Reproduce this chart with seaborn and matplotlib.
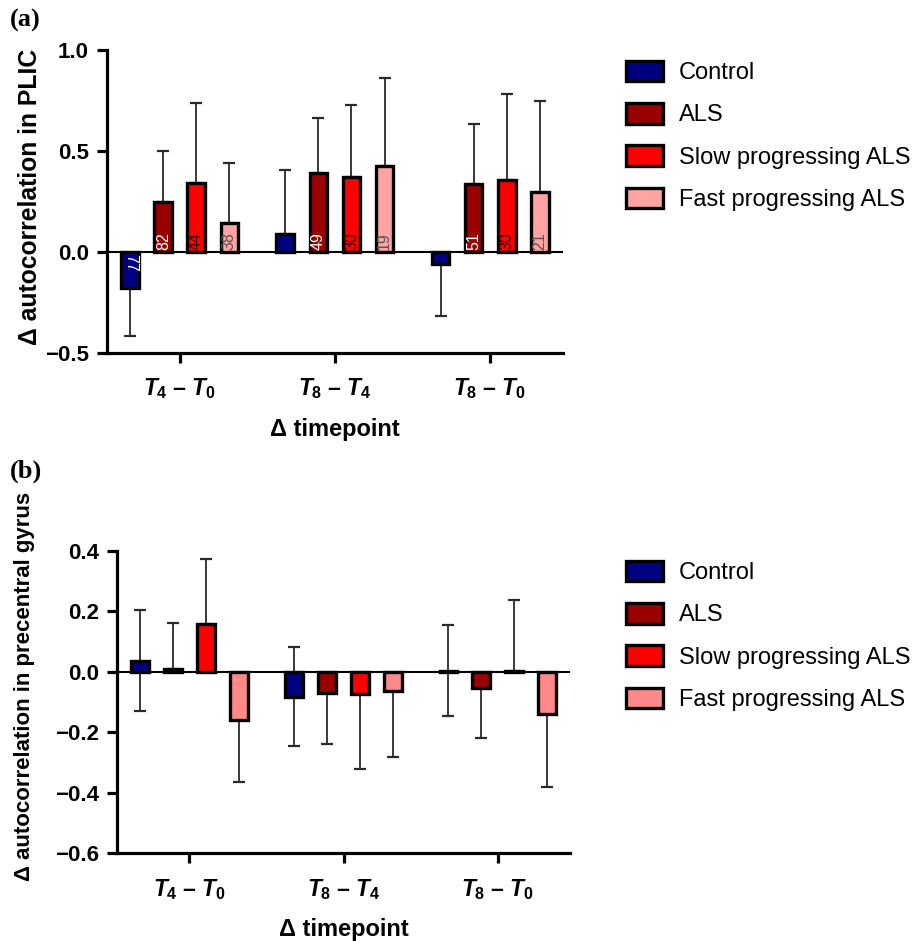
import matplotlib
matplotlib.use("Agg")
import matplotlib.pyplot as plt
import matplotlib.patches as mpatches
import numpy as np
import pandas as pd
import seaborn as sns

# ---- data -----------------------------------------------------------------
TIMEPOINTS = ["T4-T0", "T8-T4", "T8-T0"]
TICK_LABELS = [r"$T_4$ – $T_0$", r"$T_8$ – $T_4$", r"$T_8$ – $T_0$"]
GROUPS = ["Control", "ALS", "Slow progressing ALS", "Fast progressing ALS"]

# panel (a): PLIC
plic_control = [-0.180, 0.090, -0.060]
plic_als = [0.248, 0.393, 0.335]
plic_slow = [0.340, 0.370, 0.358]
plic_fast = [0.144, 0.424, 0.295]
plic_sd_control = [0.234, 0.314, 0.257]
plic_sd_als = [0.252, 0.269, 0.299]
plic_sd_slow = [0.396, 0.358, 0.424]
plic_sd_fast = [0.298, 0.437, 0.451]
plic_n_control = [77, None, None]
plic_n_als = [82, 49, 51]
plic_n_slow = [44, 30, 30]
plic_n_fast = [38, 19, 21]

# panel (b): precentral gyrus
pcg_control = [0.037, -0.082, 0.004]
pcg_als = [0.008, -0.070, -0.054]
pcg_slow = [0.159, -0.075, 0.003]
pcg_fast = [-0.158, -0.062, -0.139]
pcg_sd_control = [0.166, 0.165, 0.152]
pcg_sd_als = [0.154, 0.169, 0.165]
pcg_sd_slow = [0.216, 0.247, 0.235]
pcg_sd_fast = [0.208, 0.219, 0.243]

COLORS_A = ["#000080", "#990000", "#ff0000", "#ffa3a3"]
COLORS_B = ["#000080", "#990000", "#ff0000", "#ff8888"]
N_TEXT_COLORS = ["white", "white", "#3a0000", "#555555"]

sns.set_theme(style="ticks")
plt.rcParams["font.family"] = ["Liberation Sans", "DejaVu Sans"]
plt.rcParams["mathtext.fontset"] = "custom"
plt.rcParams["mathtext.it"] = "Liberation Sans:italic:bold"
plt.rcParams["mathtext.rm"] = "Liberation Sans:bold"
plt.rcParams["mathtext.bf"] = "Liberation Sans:bold"
for key in ("text.color", "axes.labelcolor", "xtick.color", "ytick.color",
            "axes.edgecolor"):
    plt.rcParams[key] = "black"


def long_frame(values, sds):
    rows = []
    for g, vals, errs in zip(GROUPS, values, sds):
        for t, v, e in zip(TIMEPOINTS, vals, errs):
            rows.append({"timepoint": t, "group": g, "value": v, "sd": e})
    return pd.DataFrame(rows)


def draw_panel(ax, values, sds, colors, ylim, yticks, ylabel, ylabel_size,
               ylabel_xy, counts=None, both_sides=()):
    df = long_frame(values, sds)
    sns.barplot(data=df, x="timepoint", y="value", hue="group",
                order=TIMEPOINTS, hue_order=GROUPS, palette=colors,
                saturation=1, errorbar=None, width=0.852, gap=0.46,
                edgecolor="black", linewidth=2.4, legend=False, ax=ax)

    ax.axhline(0, color="black", lw=1.5, zorder=2)

    for i, (g, cont) in enumerate(zip(GROUPS, ax.containers)):
        xs = np.array([b.get_x() + b.get_width() / 2 for b in cont])
        ys = np.array(values[i])
        err = np.array(sds[i])
        if g in both_sides:
            lo, hi = err, err
        else:
            lo = np.where(ys < 0, err, 0.0)
            hi = np.where(ys >= 0, err, 0.0)
        ax.errorbar(xs, ys, yerr=[lo, hi], fmt="none", ecolor="#2a2a2a",
                    elinewidth=1.3, capsize=4, capthick=1.6, zorder=2)
        for b in cont:
            b.set_zorder(3)
        if counts is not None:
            for x, y, n in zip(xs, ys, counts[i]):
                if n is None:
                    continue
                if y >= 0:
                    ax.text(x, 0.012, str(n), rotation=90, ha="center",
                            va="bottom", fontsize=11.5,
                            color=N_TEXT_COLORS[i], zorder=4)
                else:
                    ax.text(x, -0.012, str(n), rotation=270, ha="center",
                            va="top", fontsize=11.5,
                            color=N_TEXT_COLORS[i], zorder=4)

    ax.set_xlim(-0.47, 2.47)
    ax.set_ylim(*ylim)
    ax.set_yticks(yticks)
    ax.set_yticklabels([f"{t:.1f}".replace("-", "\u2212") for t in yticks],
                       fontsize=16, fontweight="bold")
    ax.set_xticks(range(len(TIMEPOINTS)))
    ax.set_xticklabels(TICK_LABELS, fontsize=16.5, fontweight="bold")
    ax.set_xlabel("Δ timepoint", fontsize=17, fontweight="bold", labelpad=12)
    ax.set_ylabel(ylabel, fontsize=ylabel_size, fontweight="bold")
    ax.yaxis.set_label_coords(*ylabel_xy)
    for side in ("top", "right"):
        ax.spines[side].set_visible(False)
    for side in ("left", "bottom"):
        ax.spines[side].set_linewidth(2.3)
        ax.spines[side].set_color("black")
    ax.tick_params(axis="both", length=7, width=2.3, color="black",
                   labelcolor="black", pad=6)
    ax.tick_params(axis="x", pad=10)

    handles = [mpatches.Patch(facecolor=c, edgecolor="black", linewidth=2.4,
                              label=g) for g, c in zip(GROUPS, colors)]
    return handles


fig = plt.figure(figsize=(9.19, 9.41), dpi=100)
fig.patch.set_facecolor("white")
ax_a = fig.add_axes([0.1164, 0.6249, 0.4962, 0.322])
ax_b = fig.add_axes([0.1273, 0.0935, 0.493, 0.321])

h_a = draw_panel(ax_a,
                 [plic_control, plic_als, plic_slow, plic_fast],
                 [plic_sd_control, plic_sd_als, plic_sd_slow, plic_sd_fast],
                 COLORS_A, (-0.5, 1.0), [-0.5, 0.0, 0.5, 1.0],
                 "Δ autocorrelation in PLIC", 17.8, (-0.1425, 0.515),
                 counts=[plic_n_control, plic_n_als, plic_n_slow, plic_n_fast])

h_b = draw_panel(ax_b,
                 [pcg_control, pcg_als, pcg_slow, pcg_fast],
                 [pcg_sd_control, pcg_sd_als, pcg_sd_slow, pcg_sd_fast],
                 COLORS_B, (-0.6, 0.4), [-0.6, -0.4, -0.2, 0.0, 0.2, 0.4],
                 "Δ autocorrelation in precentral gyrus", 16, (-0.181, 0.553),
                 both_sides=("Control",))

legend_kw = dict(loc="upper left", frameon=False, fontsize=17,
                 handlelength=1.55, handleheight=0.95, handletextpad=0.7,
                 labelspacing=0.8, borderpad=0, borderaxespad=0,
                 labelcolor="black", bbox_transform=fig.transFigure)
fig.legend(handles=h_a, bbox_to_anchor=(626 / 919, 1 - 61 / 941), **legend_kw)
fig.legend(handles=h_b, bbox_to_anchor=(626 / 919, 1 - 561 / 941), **legend_kw)

fig.text(10 / 919, 1 - 20 / 941, "(a)", fontsize=19, fontweight="bold",
         family=["Liberation Serif", "DejaVu Serif"], va="center", ha="left")
fig.text(10 / 919, 1 - 471 / 941, "(b)", fontsize=19, fontweight="bold",
         family=["Liberation Serif", "DejaVu Serif"], va="center", ha="left")

fig.savefig("out.png", dpi=100)
